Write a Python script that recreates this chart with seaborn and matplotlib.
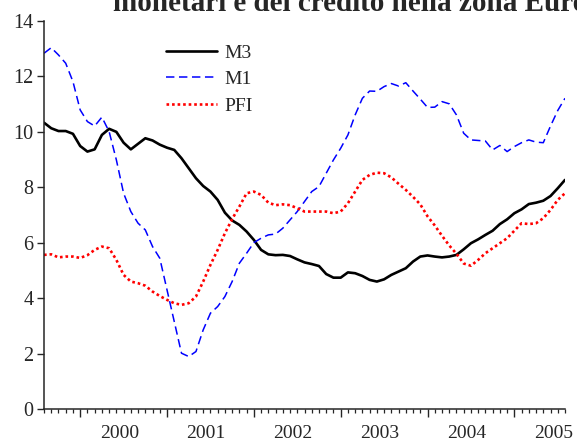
import numpy as np
import pandas as pd
import seaborn as sns
import matplotlib.pyplot as plt
from matplotlib.transforms import blended_transform_factory

# monthly growth rates, Aug 1999 - Aug 2005
dates = pd.date_range('1999-08-01', periods=73, freq='MS')
m3 = [10.32, 10.12, 10.02, 10.02, 9.92, 9.48, 9.28, 9.36, 9.88, 10.10,
      9.99, 9.60, 9.36, 9.56, 9.76, 9.68, 9.53, 9.42, 9.34, 9.04,
      8.68, 8.32, 8.04, 7.84, 7.54, 7.08, 6.80, 6.64, 6.40, 6.10,
      5.74, 5.58, 5.55, 5.56, 5.52, 5.40, 5.29, 5.23, 5.16, 4.87,
      4.74, 4.74, 4.93, 4.90, 4.80, 4.66, 4.60, 4.68, 4.84, 4.96,
      5.08, 5.32, 5.50, 5.54, 5.50, 5.47, 5.50, 5.56, 5.76, 5.98,
      6.12, 6.28, 6.43, 6.67, 6.84, 7.06, 7.20, 7.39, 7.44, 7.51,
      7.68, 7.96, 8.26]
m1 = [12.82, 13.02, 12.76, 12.46, 11.80, 10.78, 10.36, 10.20, 10.52, 10.00,
      8.98, 7.78, 7.12, 6.70, 6.46, 5.86, 5.44, 4.30, 3.16, 2.02,
      1.90, 2.08, 2.86, 3.46, 3.70, 4.06, 4.60, 5.26, 5.62, 6.00,
      6.16, 6.28, 6.31, 6.52, 6.82, 7.12, 7.48, 7.84, 8.02, 8.50,
      8.98, 9.40, 9.88, 10.60, 11.20, 11.46, 11.45, 11.62, 11.73, 11.64,
      11.76, 11.46, 11.17, 10.87, 10.88, 11.08, 11.00, 10.60, 9.94, 9.70,
      9.68, 9.66, 9.34, 9.50, 9.28, 9.46, 9.60, 9.70, 9.62, 9.60,
      10.20, 10.76, 11.20]
pfi = [5.56, 5.58, 5.47, 5.50, 5.50, 5.45, 5.55, 5.74, 5.86, 5.80,
       5.38, 4.84, 4.60, 4.54, 4.45, 4.24, 4.08, 3.94, 3.82, 3.76,
       3.82, 4.06, 4.60, 5.20, 5.74, 6.34, 6.85, 7.30, 7.78, 7.84,
       7.72, 7.44, 7.35, 7.38, 7.35, 7.24, 7.12, 7.12, 7.12, 7.12,
       7.06, 7.12, 7.42, 7.84, 8.26, 8.44, 8.52, 8.50, 8.35, 8.12,
       7.90, 7.65, 7.38, 6.95, 6.62, 6.25, 5.90, 5.60, 5.25, 5.17,
       5.38, 5.62, 5.80, 5.98, 6.16, 6.43, 6.70, 6.67, 6.70, 6.88,
       7.18, 7.54, 7.78]
year_labels = ['2000', '2001', '2002', '2003', '2004', '2005']
y_ticks = [0, 2, 4, 6, 8, 10, 12, 14]

df = pd.DataFrame({'t': dates.year + (dates.month - 1) / 12,
                   'M3': m3, 'M1': m1, 'PFI': pfi})

sns.set_style('ticks')
plt.rcParams['font.family'] = ['Liberation Serif', 'DejaVu Serif']

fig = plt.figure(figsize=(5.77, 4.41), dpi=100)
ax = fig.add_axes([44 / 577, 1 - 409.3 / 441, 521 / 577, 388.8 / 441])

sns.lineplot(data=df, x='t', y='M3', ax=ax, color='black', lw=1.9, label='M3')
sns.lineplot(data=df, x='t', y='M1', ax=ax, color='#0000ff', lw=1.1,
             linestyle=(0, (5.5, 3)), label='M1')
sns.lineplot(data=df, x='t', y='PFI', ax=ax, color='#ff0000', lw=1.9,
             linestyle=(0, (1, 1.1)), label='PFI')

ax.set_xlim(df['t'].iloc[0], df['t'].iloc[-1])
ax.set_ylim(0, 14)
ax.set_yticks(y_ticks)
ax.set_xlabel('')
ax.set_ylabel('')
sns.despine(ax=ax)
for s in ['left', 'bottom']:
    ax.spines[s].set_linewidth(1.1)

years = [int(y) for y in year_labels]
ax.set_xticks(years, labels=[''] * len(years))
ax.set_xticks(df['t'], minor=True)
ax.tick_params(axis='x', which='major', length=6, width=1.0, direction='out')
ax.tick_params(axis='x', which='minor', length=3, width=0.9, direction='out')
ax.tick_params(axis='y', length=5, width=1.0, pad=2.5, labelsize=14.5)

# year labels sit in the middle of each year, below the ticks
trans = blended_transform_factory(ax.transData, fig.transFigure)
for y, lab in zip(years, year_labels):
    ax.text(y + 0.45, 1 - 438.5 / 441, lab, transform=trans,
            ha='center', va='baseline', fontsize=14)

ax.legend(loc='upper left', bbox_to_anchor=(166 / 577, 1 - 44 / 441),
          bbox_transform=fig.transFigure, frameon=False, fontsize=14,
          handlelength=2.6, handletextpad=0.4, labelspacing=0.46,
          borderpad=0, borderaxespad=0)

fig.text(113 / 577, 1 - 11 / 441, 'monetari e del credito nella zona Euro',
         fontsize=21, fontweight='bold', va='baseline', ha='left')

fig.savefig('out.png', dpi=100)
